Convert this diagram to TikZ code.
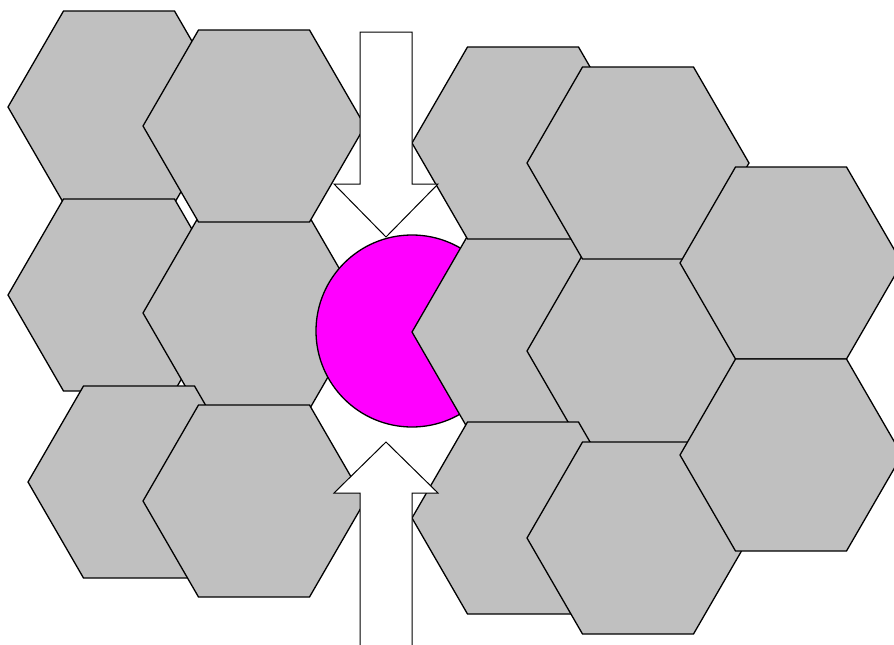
\documentclass[tikz,border=0pt]{standalone}
\usepackage{tikz}
\usetikzlibrary{calc}
\definecolor{cellgray}{HTML}{C0C0C0}
\definecolor{ballpink}{HTML}{FF00FF}

\begin{document}
\begin{tikzpicture}[
  x=1pt, y=-1pt,
  cell/.style={draw,fill=cellgray,line width=1.3pt},
  ball/.style={draw,fill=ballpink,line width=1.3pt},
  push/.style={draw,fill=white,line width=1pt}
]
\useasboundingbox (0,0) rectangle (894,645);
\clip (0,0) rectangle (894,645);
% left block, drawn back to front
\foreach \cx/\cy in {119/107,119/295,254/313,254/126,139/482,254/501}
  \draw[cell] (\cx,\cy) +(-111,0) -- +(-55.5,-96) -- +(55.5,-96) -- +(111,0) -- +(55.5,96) -- +(-55.5,96) -- cycle;
% ball, its right part hidden by the right block
\draw[ball] (412,331) circle[radius=96pt];
% right block
\foreach \cx/\cy in {523/332,638/351,523/143,638/163,791/263,523/518,638/538,791/455}
  \draw[cell] (\cx,\cy) +(-111,0) -- +(-55.5,-96) -- +(55.5,-96) -- +(111,0) -- +(55.5,96) -- +(-55.5,96) -- cycle;
% pushing arrows, top and bottom
\draw[push] (360,32) -- (412,32) -- (412,184) -- (438,184) -- (386,237) -- (334,184) -- (360,184) -- cycle;
\draw[push] (360,660) -- (360,493) -- (334,493) -- (386,442) -- (438,493) -- (412,493) -- (412,660) -- cycle;
\end{tikzpicture}
\end{document}
